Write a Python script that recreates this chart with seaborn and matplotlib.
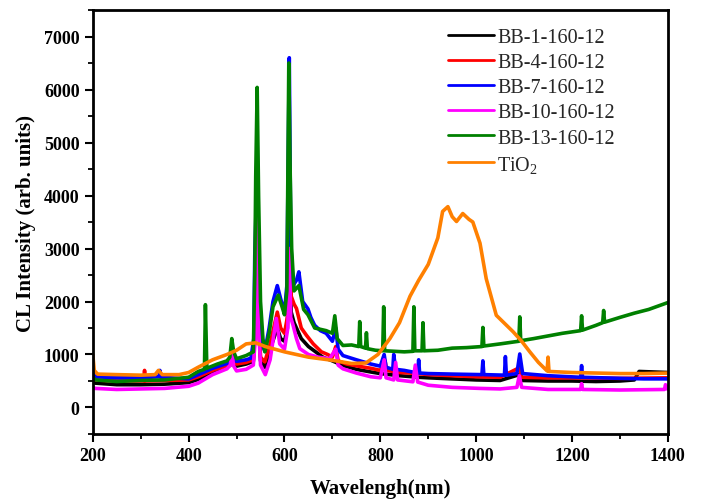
import matplotlib
matplotlib.use("Agg")
import matplotlib.pyplot as plt
from matplotlib.ticker import MultipleLocator
import pandas as pd
import seaborn as sns

# ---- spectra (wavelength in nm, CL intensity in arb. units) ----
bb1_wl = [200, 205, 250, 300, 350, 400, 420, 450, 480, 487, 490, 494, 500, 520, 535, 540, 543, 546, 550,
          559, 570, 585, 592, 600, 606, 610, 614, 620, 635, 650, 680, 700, 720, 750, 780, 800, 840, 880,
          900, 950, 1000, 1050, 1090, 1095, 1150, 1200, 1250, 1300, 1330, 1340, 1370, 1400]
bb1_val = [520, 460, 430, 430, 440, 470, 530, 660, 760, 800, 1000, 800, 780, 820, 870, 1600, 3000, 1600, 880,
           760, 1100, 1500, 1300, 1250, 1500, 3000, 1800, 1600, 1300, 1150, 950, 880, 800, 720, 670, 640, 600, 570,
           560, 540, 520, 510, 620, 510, 500, 500, 490, 500, 520, 680, 670, 660]

bb4_wl = [200, 205, 250, 300, 307, 308, 309, 400, 420, 450, 480, 487, 490, 494, 500, 520, 535, 540, 543, 546,
          550, 559, 570, 585, 592, 600, 606, 610, 614, 620, 625, 635, 646, 660, 677, 690, 700, 707, 712, 730,
          760, 780, 800, 810, 813, 840, 880, 900, 950, 1000, 1050, 1090, 1095, 1150, 1200, 1300, 1400]
bb4_val = [580, 520, 500, 500, 500, 700, 500, 520, 580, 700, 790, 840, 1050, 850, 820, 850, 900, 1800, 3300, 1800,
           950, 860, 1200, 1800, 1500, 1400, 1700, 3500, 2100, 1950, 1870, 1500, 1360, 1200, 1050, 1000, 950, 1150, 880, 820,
           770, 740, 700, 880, 700, 660, 640, 620, 600, 580, 570, 750, 570, 560, 560, 550, 560]

bb7_wl = [200, 205, 250, 300, 338, 340, 342, 400, 420, 450, 480, 487, 490, 494, 500, 520, 530, 536, 538, 540,
          543, 546, 550, 555, 559, 568, 576, 585, 592, 600, 605, 610, 613, 618, 625, 630, 638, 649, 655, 663,
          675, 687, 700, 707, 712, 722, 750, 780, 800, 808, 812, 826, 828, 832, 850, 878, 880, 882, 900, 950,
          1012, 1014, 1016, 1059, 1061, 1063, 1085, 1091, 1097, 1150, 1218, 1220, 1222, 1300, 1350, 1400]
bb7_val = [650, 580, 560, 560, 580, 700, 570, 540, 620, 740, 830, 880, 1150, 900, 870, 900, 930, 1300, 2870, 3500,
           5000, 2500, 1500, 1150, 1060, 1500, 2000, 2300, 2050, 1800, 2300, 6600, 3100, 2300, 2400, 2560, 2000, 1860, 1700, 1550,
           1450, 1400, 1250, 1500, 1100, 980, 900, 820, 780, 1000, 760, 720, 1000, 720, 700, 650, 900, 650, 640, 630,
           620, 880, 620, 610, 960, 610, 640, 1010, 640, 600, 570, 790, 570, 550, 540, 540]

bb10_wl = [200, 205, 250, 300, 350, 400, 420, 450, 480, 487, 490, 494, 500, 520, 535, 540, 543, 546, 550, 560,
           570, 583, 590, 600, 607, 610, 613, 618, 625, 632, 650, 670, 694, 707, 712, 722, 750, 780, 800, 808,
           812, 828, 832, 836, 868, 873, 878, 900, 950, 1008, 1050, 1085, 1090, 1095, 1150, 1218, 1220, 1222,
           1300, 1393, 1395, 1400]
bb10_val = [380, 360, 340, 350, 360, 400, 460, 620, 730, 800, 1050, 780, 690, 720, 800, 1400, 3560, 1500, 800, 620,
            900, 1680, 1200, 1100, 1500, 3000, 1700, 1550, 1300, 1110, 1000, 950, 920, 1100, 800, 730, 650, 580, 560, 900,
            560, 520, 850, 520, 485, 800, 480, 420, 380, 360, 350, 380, 600, 380, 340, 340, 450, 340,
            330, 340, 430, 340]

bb13_wl = [200, 205, 250, 300, 350, 400, 420, 433, 435, 438, 460, 480, 486, 490, 494, 500, 520, 535, 538, 540,
           543, 546, 550, 555, 559, 568, 576, 587, 595, 600, 605, 609, 612, 615, 620, 630, 640, 649, 663, 687,
           700, 705, 710, 722, 740, 755, 757, 759, 769, 771, 773, 790, 805, 807, 809, 830, 850, 868, 870, 872,
           887, 889, 891, 920, 950, 980, 1012, 1014, 1016, 1050, 1089, 1091, 1093, 1120, 1150, 1180, 1218, 1220,
           1222, 1250, 1264, 1266, 1268, 1300, 1330, 1360, 1400]
bb13_val = [580, 520, 490, 510, 520, 570, 680, 720, 1940, 740, 820, 880, 950, 1300, 1050, 920, 980, 1050, 2500, 4360,
            6040, 3980, 2000, 1300, 1050, 1400, 1900, 2120, 1900, 1750, 2200, 6500, 4390, 3000, 2200, 2300, 1850, 1750, 1500, 1450,
            1400, 1730, 1300, 1170, 1180, 1150, 1620, 1150, 1120, 1410, 1110, 1080, 1070, 1900, 1070, 1060, 1050, 1060, 1900, 1070,
            1070, 1600, 1070, 1080, 1120, 1130, 1150, 1510, 1160, 1200, 1250, 1710, 1260, 1300, 1350, 1400, 1450, 1730,
            1460, 1550, 1600, 1830, 1610, 1700, 1780, 1850, 1980]

tio2_wl = [200, 203, 210, 250, 300, 330, 337, 345, 380, 400, 420, 450, 480, 500, 520, 540, 560, 580, 600, 650,
           700, 740, 770, 795, 820, 840, 862, 880, 900, 920, 930, 941, 950, 959, 972, 985, 993, 1008, 1021, 1042,
           1077, 1095, 1112, 1130, 1148, 1150, 1152, 1200, 1250, 1300, 1350, 1400]
tio2_val = [1000, 700, 630, 620, 610, 620, 700, 620, 620, 660, 760, 900, 1000, 1080, 1200, 1220, 1150, 1100, 1050, 950,
            890, 830, 840, 1000, 1300, 1600, 2100, 2400, 2700, 3200, 3700, 3790, 3600, 3510, 3660, 3550, 3500, 3100, 2430, 1740,
            1430, 1250, 1050, 850, 690, 950, 680, 660, 650, 640, 640, 650]

sample_names = ["BB-1-160-12", "BB-4-160-12", "BB-7-160-12", "BB-10-160-12", "BB-13-160-12", "TiO$_2$"]
line_colors = ["#000000", "#ff0000", "#0000ff", "#ff00ff", "#008000", "#ff8000"]

x_ticks = [200, 400, 600, 800, 1000, 1200, 1400]
y_ticks = [0, 1000, 2000, 3000, 4000, 5000, 6000, 7000]

series = [
    (bb1_wl, bb1_val), (bb4_wl, bb4_val), (bb7_wl, bb7_val),
    (bb10_wl, bb10_val), (bb13_wl, bb13_val), (tio2_wl, tio2_val),
]
frames = []
for name, (wl, val) in zip(sample_names, series):
    frames.append(pd.DataFrame({"wavelength": wl, "intensity": val, "sample": name}))
df = pd.concat(frames, ignore_index=True)

sns.set_theme(style="white")
plt.rcParams["font.family"] = ["Liberation Serif", "DejaVu Serif"]
plt.rcParams["mathtext.default"] = "regular"

fig, ax = plt.subplots(figsize=(7.03, 5.02), dpi=100)
fig.subplots_adjust(left=0.132, right=0.950, bottom=0.1335, top=0.978)

sns.lineplot(data=df, x="wavelength", y="intensity", hue="sample", hue_order=sample_names,
             palette=dict(zip(sample_names, line_colors)), estimator=None, sort=False,
             linewidth=2.6, ax=ax)

ax.set_xlim(200, 1400)
ax.set_ylim(-500, 7500)
ax.set_xticks(x_ticks)
ax.set_yticks(y_ticks)
ax.xaxis.set_minor_locator(MultipleLocator(100))
ax.yaxis.set_minor_locator(MultipleLocator(500))
ax.tick_params(which="major", direction="out", length=6, width=1.5, colors="black",
               bottom=True, left=True, top=False, right=False, labelsize=13)
ax.tick_params(which="minor", direction="out", length=3.5, width=1.3, colors="black",
               bottom=True, left=True, top=False, right=False)
for lab in ax.get_xticklabels() + ax.get_yticklabels():
    lab.set_fontweight("bold")

for sp in ax.spines.values():
    sp.set_linewidth(2)
    sp.set_color("black")

ax.set_xlabel("Wavelengh(nm)", fontsize=15, fontweight="bold", color="black", labelpad=10)
ax.set_ylabel("CL Intensity (arb. units)", fontsize=15, fontweight="bold", color="black", labelpad=6)

handles, labels = ax.get_legend_handles_labels()
leg = ax.legend(handles, labels, loc="upper left", bbox_to_anchor=(0.617, 0.958), frameon=False,
                fontsize=14.5, handlelength=2.3, handletextpad=0.15, labelspacing=0.3,
                borderaxespad=0, borderpad=0)
for h in leg.get_lines():
    h.set_linewidth(2)

fig.savefig("out.png", dpi=100)
